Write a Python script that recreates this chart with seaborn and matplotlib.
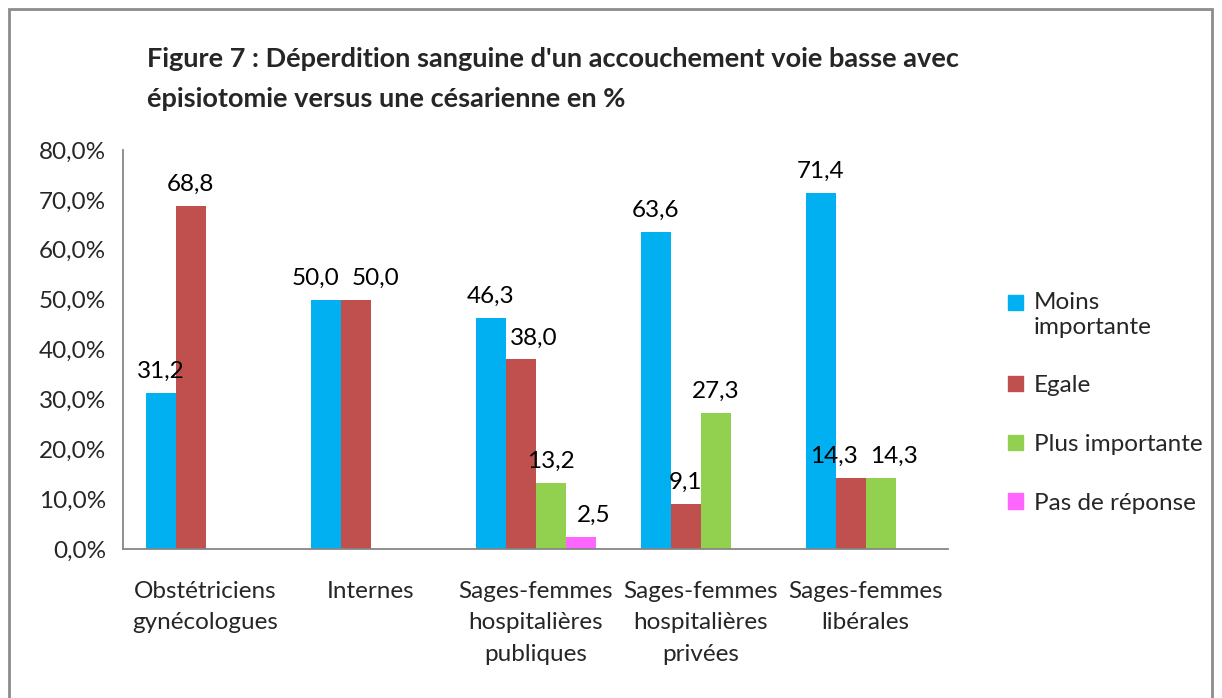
import numpy as np
import pandas as pd
import matplotlib
matplotlib.use("Agg")
import matplotlib.pyplot as plt
import seaborn as sns
from matplotlib.patches import Rectangle
from matplotlib.ticker import FuncFormatter

groupes = ["Obstétriciens\ngynécologues", "Internes",
           "Sages-femmes\nhospitalières\npubliques",
           "Sages-femmes\nhospitalières\nprivées",
           "Sages-femmes\nlibérales"]
reponses = ["Moins importante", "Egale", "Plus importante", "Pas de réponse"]
moins = [31.2, 50.0, 46.3, 63.6, 71.4]
egale = [68.8, 50.0, 38.0, 9.1, 14.3]
plus = [0, 0, 13.2, 27.3, 14.3]
pas_rep = [0, 0, 2.5, 0, 0]
couleurs = ["#00B0F0", "#C0504D", "#92D050", "#FF66FF"]
leg_labels = ["Moins\nimportante", "Egale", "Plus importante", "Pas de réponse"]

# decalage horizontal (px) de quelques etiquettes, comme sur l'original
decal = {(1, 0): -10, (1, 1): 20, (2, 1): 13, (2, 3): 13, (4, 1): -17, (4, 2): 13}

rows = []
for rep, vals in zip(reponses, [moins, egale, plus, pas_rep]):
    for g, v in zip(groupes, vals):
        if v > 0:
            rows.append({"groupe": g, "reponse": rep, "valeur": v})
df = pd.DataFrame(rows)

sns.set_style("white")
plt.rcParams['font.family'] = ['Lato', 'DejaVu Sans']
FS = 17.5

fig = plt.figure(figsize=(12.22, 6.98), dpi=100)
ax = fig.add_axes([123/1222, 1 - 549/698, 825/1222, 399/698])

sns.barplot(data=df, x="groupe", y="valeur", hue="reponse", order=groupes,
            hue_order=reponses, palette=couleurs, saturation=1, errorbar=None,
            width=120/165, gap=0, ax=ax, legend=False, linewidth=0)

for k, cont in enumerate(ax.containers):
    for bar, v in zip(cont.patches, cont.datavalues):
        xc = bar.get_x() + bar.get_width() / 2
        gi = int(round(xc))
        dx = decal.get((gi, k), 0) * 0.72
        ax.annotate(f"{v:.1f}".replace(".", ","), (xc, bar.get_height()),
                    xytext=(dx, 8), textcoords="offset points",
                    ha="center", va="bottom", fontsize=FS, color="black")

ax.set_ylim(0, 80)
ax.set_xlim(-0.5, len(groupes) - 0.5)
ax.set_yticks(np.arange(0, 81, 10))
ax.yaxis.set_major_formatter(FuncFormatter(lambda v, p: f"{v:.1f}%".replace(".", ",")))
ax.set_xticks(range(len(groupes)))
ax.set_xticklabels(groupes, linespacing=1.62)
ax.set_xticks(np.arange(-0.5, len(groupes), 1), minor=True)
ax.tick_params(axis="x", which="major", length=0, pad=23, labelsize=FS)
ax.tick_params(axis="x", which="minor", length=7, color="#868686", width=1.3, direction="out")
ax.tick_params(axis="y", length=7, color="#868686", width=1.3, direction="out", labelsize=FS, pad=5)
ax.set_xlabel("")
ax.set_ylabel("")
for s in ["top", "right"]:
    ax.spines[s].set_visible(False)
for s in ["left", "bottom"]:
    ax.spines[s].set_color("#868686")
    ax.spines[s].set_linewidth(1.3)

handles = [Rectangle((0, 0), 1, 1, color=c) for c in couleurs]
leg = ax.legend(handles, leg_labels, loc="upper left",
                bbox_to_anchor=(996/1222, 1 - 280/698), bbox_transform=fig.transFigure,
                frameon=False, fontsize=FS, handlelength=0.6, handleheight=0.6,
                handletextpad=0.45, labelspacing=1.55, borderpad=0)

# carre de la premiere entree aligne sur la premiere ligne du texte
fig.canvas.draw()
h0 = leg.legend_handles[0]
t0 = leg.get_texts()[0].get_window_extent()
t1 = leg.get_texts()[1].get_window_extent()
hb = h0.get_window_extent()
dy = (t0.y1 - t1.height / 2) - (hb.y0 + hb.y1) / 2
h0.set_y(h0.get_y() + dy * 72 / fig.dpi)

fig.text(147/1222, 1 - 47/698,
         "Figure 7 : Déperdition sanguine d'un accouchement voie basse avec\népisiotomie versus une césarienne en %",
         fontsize=19.5, fontweight="bold", va="top", ha="left", linespacing=1.82)

fig.patches.append(Rectangle((9/1222, -0.01), 1203/1222, 1 - 9/698 + 0.01,
                             transform=fig.transFigure, fill=False,
                             edgecolor="#8c8c8c", linewidth=2))

fig.savefig("out.png", dpi=100)
